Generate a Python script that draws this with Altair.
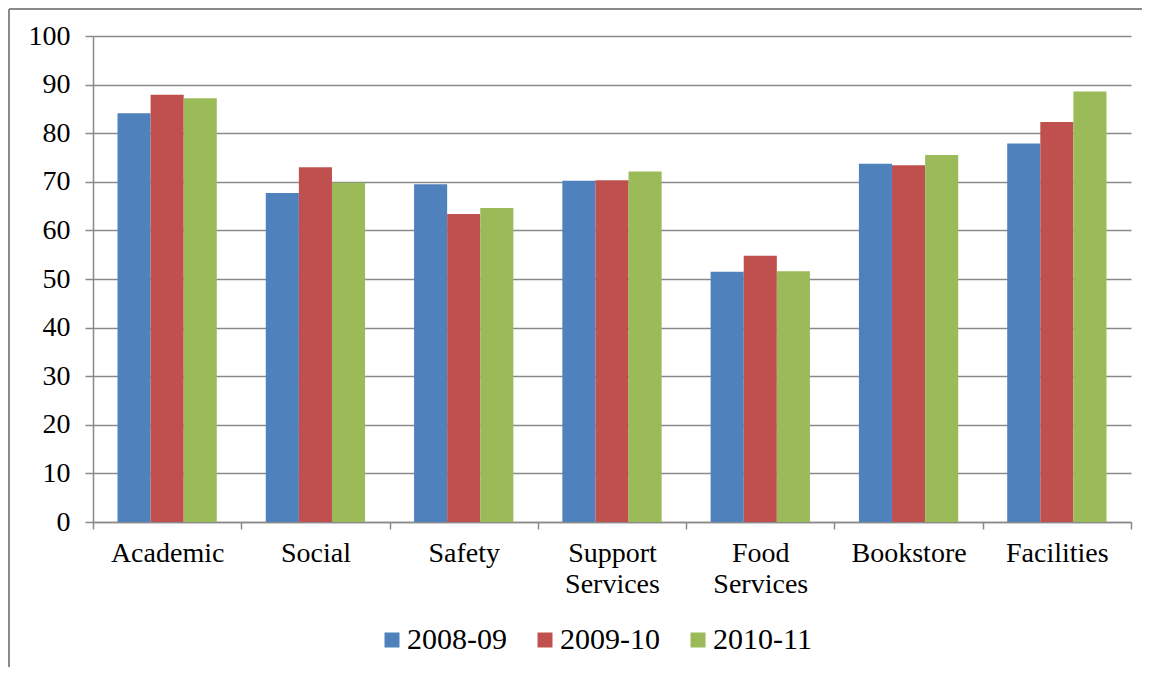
import altair as alt
import pandas as pd

categories = ["Academic", "Social", "Safety", "Support Services", "Food Services", "Bookstore", "Facilities"]
series = ["2008-09", "2009-10", "2010-11"]
colors = ["#4F81BD", "#C0504D", "#9BBB59"]
v_2008 = [84.1, 67.7, 69.5, 70.2, 51.5, 73.7, 77.9]
v_2009 = [87.9, 73.0, 63.4, 70.3, 54.8, 73.4, 82.3]
v_2010 = [87.2, 69.8, 64.6, 72.1, 51.6, 75.5, 88.6]
y_ticks = list(range(0, 101, 10))

rows = []
for s, vals in zip(series, [v_2008, v_2009, v_2010]):
    for c, v in zip(categories, vals):
        rows.append({"category": c, "series": s, "value": v})
df = pd.DataFrame(rows)

FONT = "Liberation Serif"
GRID = "#8a8a8a"

bars = alt.Chart(df).mark_bar().encode(
    x=alt.X("category:N", sort=categories,
            scale=alt.Scale(paddingInner=0, paddingOuter=0),
            axis=alt.Axis(title=None, labelAngle=0, tickBand="extent",
                          labelExpr="split(datum.label, ' ')",
                          labelFont=FONT, labelFontSize=28, labelColor="#000000",
                          labelLineHeight=31, labelPadding=10,
                          tickSize=7, tickColor=GRID, tickWidth=1.5,
                          domainColor=GRID, domainWidth=1.5, grid=False)),
    xOffset=alt.XOffset("series:N", sort=series,
                        scale=alt.Scale(paddingInner=0, paddingOuter=0.74)),
    y=alt.Y("value:Q", scale=alt.Scale(domain=[0, 100], nice=False),
            axis=alt.Axis(title=None, values=y_ticks, labelFont=FONT, labelFontSize=28,
                          labelColor="#000000", labelPadding=15,
                          tickSize=8, tickColor=GRID, tickWidth=1.5,
                          domainColor=GRID, domainWidth=1.5,
                          grid=True, gridColor=GRID, gridWidth=1.5)),
    color=alt.Color("series:N", sort=series,
                    scale=alt.Scale(domain=series, range=colors),
                    legend=alt.Legend(title=None, orient="none", legendX=284, legendY=589,
                                      direction="horizontal", symbolType="square",
                                      symbolSize=225, symbolStrokeWidth=0,
                                      labelFont=FONT, labelFontSize=30, labelColor="#000000",
                                      columnPadding=23, labelOffset=0)),
)

border_df = pd.DataFrame({"a": [0]})
left_border = alt.Chart(border_df).mark_rule(color="#8a8a8a", strokeWidth=2).encode(
    x=alt.value(-84), y=alt.value(-27), y2=alt.value(640))
top_border = alt.Chart(border_df).mark_rule(color="#8a8a8a", strokeWidth=2).encode(
    x=alt.value(-84), x2=alt.value(1049), y=alt.value(-27))

chart = alt.layer(bars, left_border, top_border).properties(
    width=1038, height=486,
    autosize=alt.AutoSizeParams(type="none"),
    padding={"left": 85, "top": 28, "right": 11, "bottom": 145},
).configure_view(stroke=None)

chart.save("out.html", embed_options={"renderer": "svg", "actions": False})
